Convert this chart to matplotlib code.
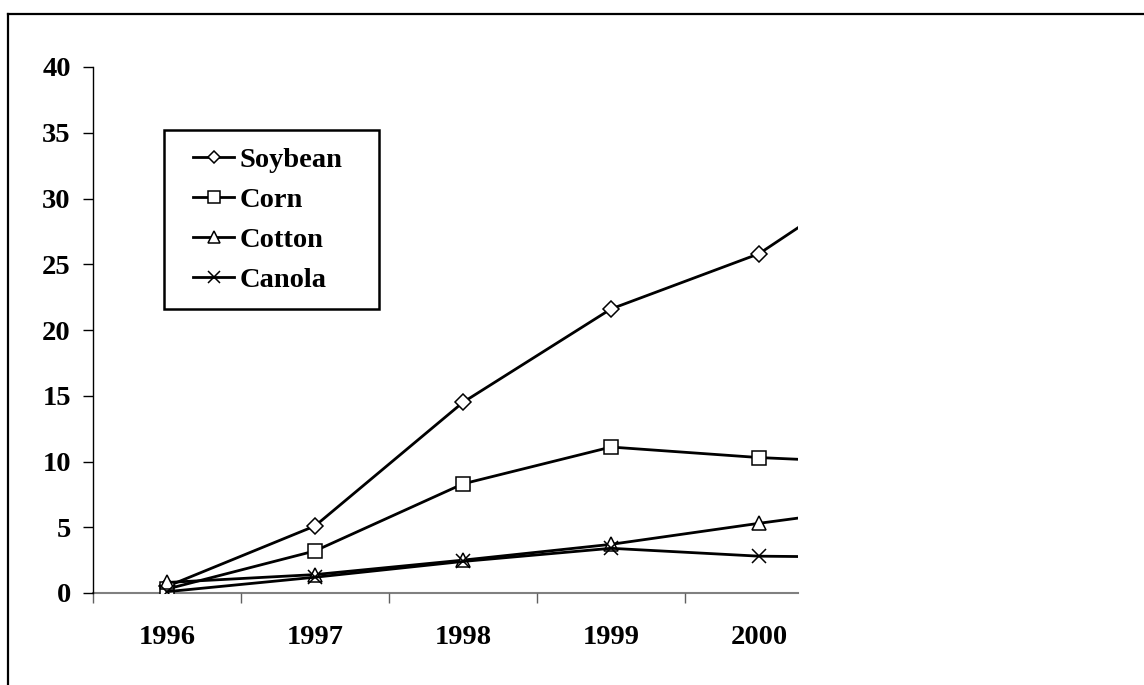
import matplotlib
matplotlib.use("Agg")
import matplotlib.pyplot as plt
from matplotlib.lines import Line2D
from matplotlib.patches import Rectangle

years = ["1996", "1997", "1998", "1999", "2000", "2001"]
soybean = [0.5, 5.1, 14.5, 21.6, 25.8, 33.3]
corn = [0.3, 3.2, 8.3, 11.1, 10.3, 9.8]
cotton = [0.8, 1.4, 2.5, 3.7, 5.3, 6.8]
canola = [0.1, 1.2, 2.4, 3.4, 2.8, 2.7]
yticks = [0, 5, 10, 15, 20, 25, 30, 35, 40]

plt.rcParams['font.family'] = ['Liberation Serif', 'DejaVu Serif']
plt.rcParams['font.weight'] = 'bold'

FS = 20.5
W, H = 1144, 685
fig = plt.figure(figsize=(W / 100, H / 100), dpi=100)
ax = fig.add_axes([93 / W, 1 - 593 / H, (797.7 - 93) / W, (593 - 67) / H])

x = list(range(len(years)))
series = [
    ("Soybean", soybean, 'D', 8),
    ("Corn", corn, 's', 10),
    ("Cotton", cotton, '^', 10.5),
    ("Canola", canola, 'x', 10),
]
for name, vals, mk, ms in series:
    ax.plot(x, vals, color='black', lw=2.0, marker=mk, ms=ms,
            markerfacecolor='white', markeredgecolor='black', mew=1.1,
            label=name, clip_on=True)

ax.set_xlim(-0.5, (797.7 - 167) / 148)
ax.set_ylim(0, 40)
ax.set_yticks(yticks)
ax.set_yticklabels([str(v) for v in yticks], fontsize=FS, fontweight='bold')
ax.set_xticks(x[:5])
ax.set_xticklabels(years[:5], fontsize=FS, fontweight='bold')
ax.set_xticks([-0.5, 0.5, 1.5, 2.5, 3.5], minor=True)
ax.tick_params(axis='x', which='major', length=0, pad=23)
ax.tick_params(axis='x', which='minor', length=7, width=1, color='#606060', direction='out')
ax.tick_params(axis='y', which='major', length=7, width=1, color='black', pad=9, direction='out')

for s in ['top', 'right']:
    ax.spines[s].set_visible(False)
ax.spines['left'].set_color('black')
ax.spines['left'].set_linewidth(1)
ax.spines['bottom'].set_color('#808080')
ax.spines['bottom'].set_linewidth(1.5)
ax.spines['bottom'].set_zorder(1)

leg = ax.legend(loc='upper left', bbox_to_anchor=(193 / W, 1 - 147 / H),
                bbox_transform=fig.transFigure, frameon=False,
                prop={'family': 'Liberation Serif', 'weight': 'bold', 'size': FS},
                handlelength=1.45, handletextpad=0.2, labelspacing=0.49,
                borderpad=0, borderaxespad=0, markerscale=0.8)
fig.add_artist(Rectangle((164 / W, 1 - 309 / H), (379 - 164) / W, (309 - 130) / H,
                         transform=fig.transFigure, fill=False, edgecolor='black',
                         lw=1.8, zorder=5))

# outer frame (cropped on right and bottom)
fig.add_artist(Line2D([8 / W, 8 / W], [0, 1 - 14 / H], transform=fig.transFigure,
                      color='black', lw=1.6))
fig.add_artist(Line2D([8 / W, 1], [1 - 14 / H, 1 - 14 / H], transform=fig.transFigure,
                      color='black', lw=1.6))

fig.savefig("out.png", dpi=100)
